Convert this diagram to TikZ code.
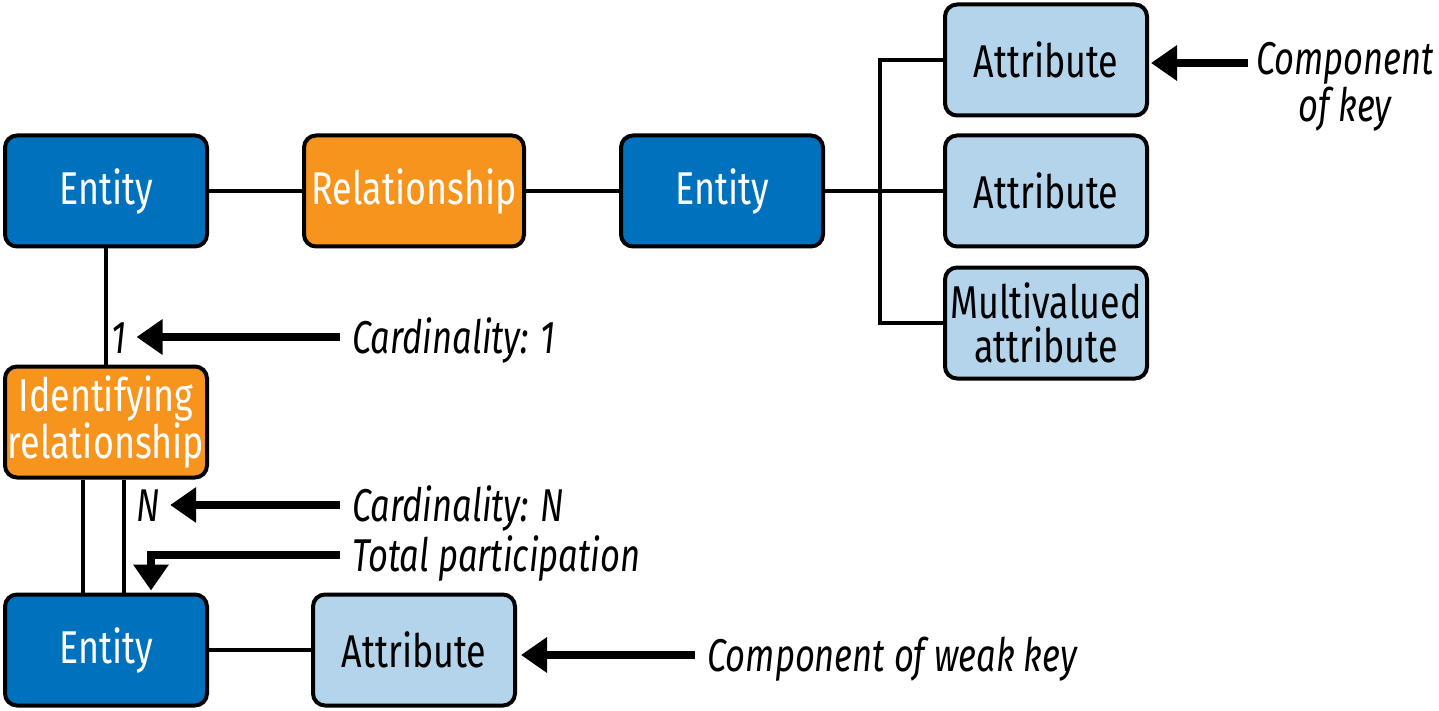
\documentclass[tikz,border=0pt]{standalone}
\usepackage{fontspec}
\setmainfont{Fira Sans}[FakeStretch=0.78, ItalicFeatures={FakeStretch=0.75}]
\usetikzlibrary{arrows.meta}
\usetikzlibrary{calc}

\definecolor{entblue}{HTML}{0071BC}
\definecolor{relorange}{HTML}{F7941E}
\definecolor{attrblue}{HTML}{B3D4EA}

\tikzset{
 box/.style={draw, line width=2pt, rounded corners=6pt, minimum width=101pt, minimum height=55.5pt,
   inner sep=1pt, align=center, font=\fontsize{23}{22}\selectfont},
 entity/.style={box, fill=entblue, text=white},
 rel/.style={box, fill=relorange, text=white},
 attr/.style={box, fill=attrblue},
 conn/.style={line width=1.6pt},
 note/.style={font=\fontsize{23}{22}\selectfont\itshape, inner sep=0pt, anchor=west,
   text height=16pt, text depth=0pt},
 pointer/.style={line width=4pt, -{Triangle[length=13pt,width=17pt]}},
}

\begin{document}
\begin{tikzpicture}[x=0.5pt, y=-0.5pt]
\useasboundingbox (0,0) rectangle (1439,711);

% boxes
\node[entity] (ent1) at (106,191) {Entity};
\node[rel, minimum width=110pt] (rel) at (414,191) {Relationship};
\node[entity] (ent2) at (722,191) {Entity};
\node[attr] (att1) at (1046,60) {Attribute};
\node[attr] (att2) at (1046,191) {Attribute};
\node[attr] (att3) at (1046,323) {Multivalued\\attribute};
\node[rel] (idrel) at (106,422) {Identifying\\relationship};
\node[entity] (ent3) at (106,650) {Entity};
\node[attr] (att4) at (414,650) {Attribute};

% lines between boxes
\draw[conn] (ent1) -- (rel);
\draw[conn] (rel) -- (ent2);
\draw[conn] (ent2) -- (att2);
\draw[conn] (att1.west) -- ++(-63,0) |- (att3.west);
\draw[conn] (ent1.south) -- (idrel.north);
\draw[conn] ([xshift=-11.5pt]idrel.south) -- ([xshift=-11.5pt]ent3.north);
\draw[conn] ([xshift=9pt]idrel.south) -- ([xshift=9pt]ent3.north);
\draw[conn] (ent3) -- (att4);

% notes
\node[note] (one) at (111,337) {1};
\node[note] (card1) at (352,337) {Cardinality: 1};
\node[note] (nn) at (136,505) {N};
\node[note] (cardN) at (352,505) {Cardinality: N};
\node[note] (total) at (352,555) {Total participation};
\node[font=\fontsize{23}{22}\selectfont\itshape, inner sep=0pt, align=center, anchor=north]
  (keytxt) at (1345,42) {Component\\of key};
\node[note] (weak) at (707,655) {Component of weak key};

\draw[pointer, shorten <=6pt, shorten >=5pt] (card1.west) -- (one.east);
\draw[pointer, shorten <=6pt, shorten >=5pt] (cardN.west) -- (nn.east);
\draw[pointer, shorten <=6pt, shorten >=1pt] (total.west) -| ($(ent3.north)+(45,0)$);
\draw[pointer, shorten <=4pt, shorten >=1pt] (keytxt.west |- 0,63) -- (att1.east |- 0,63);
\draw[pointer, shorten <=6pt, shorten >=2pt] (weak.west) -- (weak.west -| att4.east);
\end{tikzpicture}
\end{document}
